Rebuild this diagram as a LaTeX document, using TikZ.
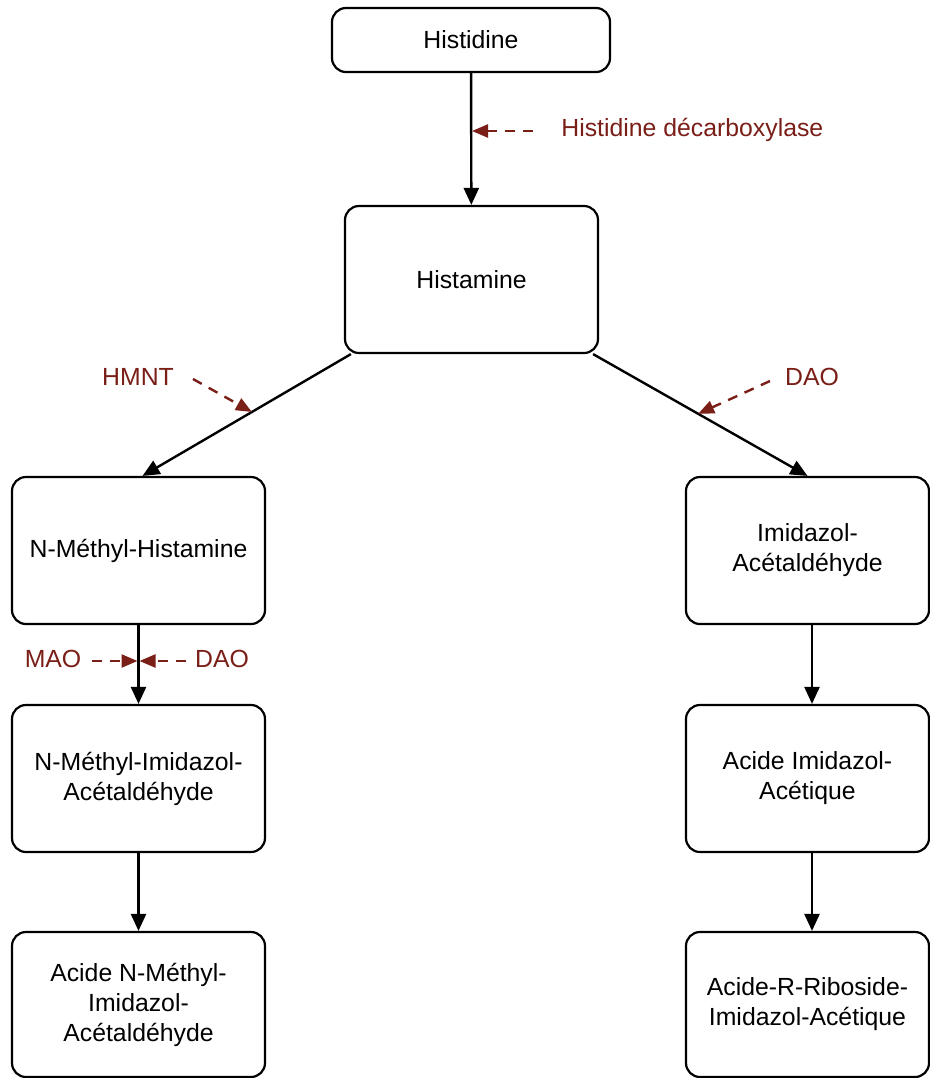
\documentclass[tikz,border=0pt]{standalone}
\usepackage{fontspec}
\setmainfont{Liberation Sans}
\usetikzlibrary{arrows.meta}
\definecolor{enz}{RGB}{122,30,24}
\begin{document}
\begin{tikzpicture}[x=0.5pt,y=-0.5pt,
  box/.style={draw=black,line width=1.1pt,rounded corners=7pt,fill=white,align=center,
    font=\fontsize{12.4}{15}\selectfont,inner sep=0pt},
  arr/.style={line width=1.2pt,-{Triangle[length=8.5pt,width=7.5pt]}},
  enzarr/.style={draw=enz,line width=1.2pt,dash pattern=on 5pt off 4pt,
    -{Triangle[length=8pt,width=6.5pt]},enz},
  enzlab/.style={text=enz,font=\fontsize{12.4}{15}\selectfont,inner sep=0pt}]
\useasboundingbox (0,0) rectangle (930,1078);
% boxes
\node[box,minimum width=139pt,minimum height=32pt] (hd) at (471,40) {Histidine};
\node[box,minimum width=126.5pt,minimum height=73.5pt] (hm) at (471.5,279.5) {Histamine};
\node[box,minimum width=126.5pt,minimum height=73.5pt] (nmh) at (138.5,550.5) {N-Méthyl-Histamine};
\node[box,minimum width=121.5pt,minimum height=73.5pt] (ia) at (807.5,550.5) {Imidazol-\\Acétaldéhyde};
\node[box,minimum width=126.5pt,minimum height=73.5pt] (nmia) at (138.5,778.5) {N-Méthyl-Imidazol-\\Acétaldéhyde};
\node[box,minimum width=121.5pt,minimum height=73.5pt] (aia) at (807.5,778.5) {Acide Imidazol-\\Acétique};
\node[box,minimum width=126.5pt,minimum height=72.5pt] (anmia) at (138.5,1004.5) {Acide N-Méthyl-\\Imidazol-\\Acétaldéhyde};
\node[box,minimum width=121.5pt,minimum height=72.5pt] (arr) at (807.5,1004.5) {Acide-R-Riboside-\\Imidazol-Acétique};
% main arrows
\draw[arr] (hd) -- (hm);
\draw[arr] ([xshift=3.5pt]hm.south west) -- ([xshift=2pt]nmh.north)
  coordinate[pos=0.475] (hmntTip);
\draw[arr] ([xshift=-3pt]hm.south east) -- (ia.north)
  coordinate[pos=0.49] (daoTip);
\draw[arr] (nmh) -- (nmia) coordinate[pos=0.49] (maoTip);
\draw[arr] (nmia) -- (anmia);
\draw[arr] ([xshift=2.25pt]ia.south) -- ([xshift=2.25pt]aia.north);
\draw[arr] ([xshift=2.25pt]aia.south) -- ([xshift=2.25pt]arr.north);
% enzyme labels
\node[enzlab,anchor=west] (hdc) at (561,130) {Histidine décarboxylase};
\coordinate (hdcTip) at (472,131);
\coordinate (hdcStart) at (533,131);
\draw[enzarr] (hdcStart) -- (hdcTip);
\node[enzlab] (hmnt) at (138,377) {HMNT};
\coordinate (hmntStart) at (193,379);
\draw[enzarr] (hmntStart) -- (hmntTip);
\node[enzlab] (dao1) at (812,377) {DAO};
\coordinate (daoStart) at (770,381);
\draw[enzarr] (daoStart) -- (daoTip);
\node[enzlab] (mao) at (53,659) {MAO};
\node[enzlab] (dao2) at (222,659) {DAO};
\coordinate (maoStart) at (92,661);
\coordinate (dao2Start) at (186,661);
\draw[enzarr] (maoStart) -- ([xshift=-0.5pt]maoTip |- maoStart);
\draw[enzarr] (dao2Start) -- ([xshift=0.5pt]maoTip |- dao2Start);
\end{tikzpicture}
\end{document}
